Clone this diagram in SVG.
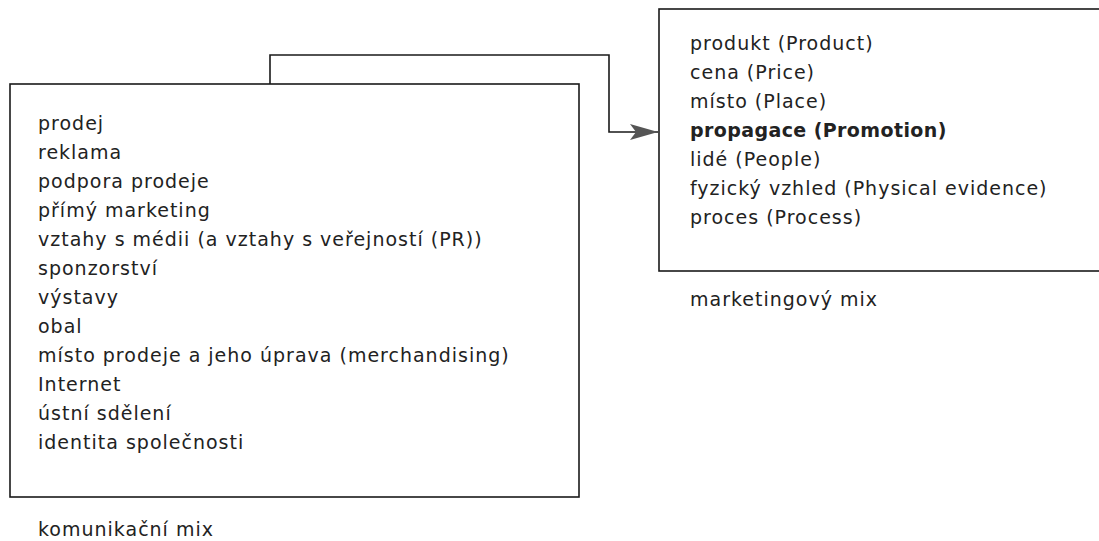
<svg xmlns="http://www.w3.org/2000/svg" width="1099" height="541" viewBox="0 0 1099 541">
<defs>
<style>
.box{fill:#fff;stroke:#1a1a1a;stroke-width:1.6}
.t{font-family:"DejaVu Sans","Liberation Sans",sans-serif;font-size:19px;letter-spacing:1px;fill:#222}
.b{font-weight:bold;letter-spacing:0.4px}
.conn{fill:none;stroke:#1a1a1a;stroke-width:1.6}
</style>
<marker id="arr" markerWidth="28" markerHeight="16" refX="28" refY="8" orient="auto" markerUnits="userSpaceOnUse">
<path d="M0,0 L28,8 L0,16 L6,8 Z" fill="#555"/>
</marker>
</defs>
<rect width="1099" height="541" fill="#fff"/>
<g id="connectors">
<path class="conn" d="M270,84 V55 H609 V132 H658" marker-end="url(#arr)"/>
</g>
<g id="komunikacni-mix">
<rect class="box" x="10" y="84" width="569" height="413"/>
<text class="t" x="38" y="130">prodej</text>
<text class="t" x="38" y="159">reklama</text>
<text class="t" x="38" y="188">podpora prodeje</text>
<text class="t" x="38" y="217">přímý marketing</text>
<text class="t" x="38" y="246">vztahy s médii (a vztahy s veřejností (PR))</text>
<text class="t" x="38" y="275">sponzorství</text>
<text class="t" x="38" y="304">výstavy</text>
<text class="t" x="38" y="333">obal</text>
<text class="t" x="38" y="362">místo prodeje a jeho úprava (merchandising)</text>
<text class="t" x="38" y="391">Internet</text>
<text class="t" x="38" y="420">ústní sdělení</text>
<text class="t" x="38" y="449">identita společnosti</text>
<text class="t" x="38" y="536">komunikační mix</text>
</g>
<g id="marketingovy-mix">
<rect class="box" x="659" y="9" width="450" height="262"/>
<text class="t" x="690" y="50">produkt (Product)</text>
<text class="t" x="690" y="79">cena (Price)</text>
<text class="t" x="690" y="108">místo (Place)</text>
<text class="t b" x="690" y="137">propagace (Promotion)</text>
<text class="t" x="690" y="166">lidé (People)</text>
<text class="t" x="690" y="195">fyzický vzhled (Physical evidence)</text>
<text class="t" x="690" y="224">proces (Process)</text>
<text class="t" x="690" y="306">marketingový mix</text>
</g>
</svg>
